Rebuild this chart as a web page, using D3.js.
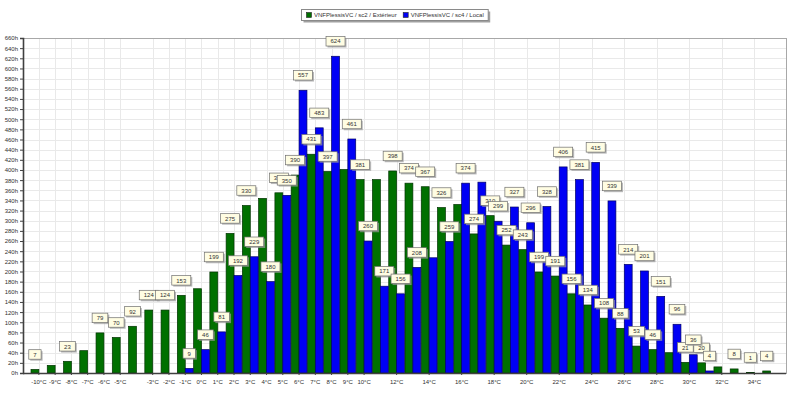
<!DOCTYPE html>
<html>
<head>
<meta charset="utf-8">
<title>VNFPlessisVC - heures par température</title>
<script src="https://cdnjs.cloudflare.com/ajax/libs/d3/7.8.5/d3.min.js"></script>
<style>
  body { margin: 0; background: #fff; }
  text { font-family: 'Liberation Sans', Arial, sans-serif; }
</style>
</head>
<body>
<div id="chart"></div>
<script>
// categories (temperature classes)
var categories = ["-10°C","-9°C","-8°C","-7°C","-6°C","-5°C","-4°C","-3°C","-2°C","-1°C",
  "0°C","1°C","2°C","3°C","4°C","5°C","6°C","7°C","8°C","9°C",
  "10°C","11°C","12°C","13°C","14°C","15°C","16°C","17°C","18°C","19°C",
  "20°C","21°C","22°C","23°C","24°C","25°C","26°C","27°C","28°C","29°C",
  "30°C","31°C","32°C","33°C","34°C","35°C"];

// hours per class
var exterieur = [7,15,23,44,79,70,92,124,124,153,
  166,199,275,330,344,355,390,431,397,401,
  381,381,398,374,367,326,332,274,310,252,
  243,199,191,156,134,108,88,53,46,40,
  21,20,12,8,1,4];
var local = [0,0,0,0,0,0,0,0,0,9,
  46,81,192,229,180,350,557,483,624,461,
  260,171,156,208,227,259,374,376,299,327,
  296,328,406,381,415,339,214,201,151,96,
  36,4,0,0,0,0];

var seriesNames = ["VNFPlessisVC / sc2 / Extérieur", "VNFPlessisVC / sc4 / Local"];
var seriesColors = ["#007000", "#0000f5"];
var seriesStroke = ["#003300", "#000066"];

// labels the original chart did not show
var hiddenExterieur = ["-9°C","-7°C","0°C","4°C","9°C","11°C","16°C","29°C","32°C"];
var hiddenLocal = ["14°C","17°C"];

var xTicks = ["-10°C","-9°C","-8°C","-7°C","-6°C","-5°C","-3°C","-2°C","-1°C",
  "0°C","1°C","2°C","3°C","4°C","5°C","6°C","7°C","8°C","9°C","10°C",
  "12°C","14°C","16°C","18°C","20°C","22°C","24°C","26°C","28°C","30°C","32°C","34°C"];
var yTicks = [0,20,40,60,80,100,120,140,160,180,200,220,240,260,280,300,320,340,
  360,380,400,420,440,460,480,500,520,540,560,580,600,620,640,660];

var W = 791, H = 394;
var pLeft = 23, pRight = 786, pTop = 38, pBottom = 373;

var svg = d3.select("#chart").append("svg")
  .attr("width", W).attr("height", H);

var x = d3.scaleBand().domain(categories).range([31, 778.5]).paddingInner(0.03);
var xs = d3.scaleBand().domain([0, 1]).range([0, x.bandwidth()]);
var y = d3.scaleLinear().domain([0, 660]).range([pBottom, pTop]);

// grid
svg.append("g").selectAll("line")
  .data(yTicks.slice(1))
  .enter().append("line")
  .attr("x1", pLeft).attr("x2", pRight)
  .attr("y1", function(d) { return Math.round(y(d)) + 0.5; })
  .attr("y2", function(d) { return Math.round(y(d)) + 0.5; })
  .attr("stroke", "#e9e9e9");
svg.append("g").selectAll("line")
  .data(xTicks)
  .enter().append("line")
  .attr("x1", function(d) { return Math.round(x(d) + x.bandwidth() / 2) + 0.5; })
  .attr("x2", function(d) { return Math.round(x(d) + x.bandwidth() / 2) + 0.5; })
  .attr("y1", pTop).attr("y2", pBottom)
  .attr("stroke", "#e9e9e9");

// frame
svg.append("rect")
  .attr("x", pLeft + 0.5).attr("y", pTop + 0.5)
  .attr("width", pRight - pLeft).attr("height", pBottom - pTop)
  .attr("fill", "none").attr("stroke", "#a8a8a8");

// bars
var all = [exterieur, local];
all.forEach(function(vals, s) {
  svg.append("g").selectAll("rect")
    .data(categories.filter(function(c, i) { return vals[i] > 0; }))
    .enter().append("rect")
    .attr("x", function(d) { return x(d) + xs(s); })
    .attr("width", xs.bandwidth())
    .attr("y", function(d) { return y(vals[categories.indexOf(d)]); })
    .attr("height", function(d) { return pBottom - y(vals[categories.indexOf(d)]); })
    .attr("fill", seriesColors[s])
    .attr("stroke", seriesStroke[s])
    .attr("stroke-width", 0.7);
});

// axes
var yAxis = d3.axisLeft(y).tickValues(yTicks).tickSize(3).tickPadding(2)
  .tickFormat(function(d) { return d + "h"; });
var gy = svg.append("g").attr("transform", "translate(" + pLeft + ",0)").call(yAxis);
gy.select(".domain").attr("stroke", "#404040").attr("stroke-width", 1.6);
gy.selectAll(".tick line").attr("stroke", "#404040");
gy.selectAll("text").attr("font-size", 6).attr("fill", "#303030")
  .attr("font-family", "'Liberation Sans', Arial, sans-serif");

var xAxis = d3.axisBottom(x).tickValues(xTicks).tickSize(2).tickPadding(5).tickSizeOuter(0);
var gx = svg.append("g").attr("transform", "translate(0," + pBottom + ")").call(xAxis);
gx.select(".domain").attr("d", "M" + pLeft + ",0.5H" + pRight).attr("stroke", "#404040").attr("stroke-width", 1.4);
gx.selectAll(".tick line").attr("stroke", "#404040");
gx.selectAll("text").attr("font-size", 6).attr("fill", "#303030")
  .attr("font-family", "'Liberation Sans', Arial, sans-serif");

// value labels
var hidden = [hiddenExterieur, hiddenLocal];
all.forEach(function(vals, s) {
  var g = svg.append("g");
  categories.forEach(function(c, i) {
    var v = vals[i];
    if (v <= 0 || hidden[s].indexOf(c) >= 0) return;
    var cx = x(c) + xs(s) + xs.bandwidth() / 2;
    var cy = y(v) - 15;
    var lg = g.append("g");
    var t = lg.append("text").text(v)
      .attr("x", cx).attr("y", cy + 2.2)
      .attr("text-anchor", "middle")
      .attr("font-size", 6).attr("fill", "#333");
    var w = t.node().getComputedTextLength() + 9;
    var hgt = 9.5;
    lg.insert("rect", "text")
      .attr("x", cx - w / 2 + 1.5).attr("y", cy - hgt / 2 + 1.5)
      .attr("width", w).attr("height", hgt)
      .attr("fill", "#9a9a9a").attr("opacity", 0.7);
    lg.insert("rect", "text")
      .attr("x", cx - w / 2).attr("y", cy - hgt / 2)
      .attr("width", w).attr("height", hgt)
      .attr("fill", "#fffde3").attr("stroke", "#6f6f6f").attr("stroke-width", 0.7);
  });
});

// legend
var lgd = svg.append("g");
var shadow = lgd.append("rect").attr("fill", "#a0a0a0");
var box = lgd.append("rect").attr("fill", "#fff").attr("stroke", "#8a8a8a");
var lx = 306;
seriesNames.forEach(function(n, s) {
  lgd.append("rect").attr("x", lx + 0.5).attr("y", 12.5).attr("width", 5).attr("height", 5)
    .attr("fill", seriesColors[s]).attr("stroke", "#222").attr("stroke-width", 0.6);
  var t = lgd.append("text").attr("x", lx + 8).attr("y", 17.3)
    .attr("font-size", 6).attr("fill", "#333").text(n);
  lx += 8 + t.node().getComputedTextLength() + 6;
});
var bw = lx - 302 - 1;
box.attr("x", 301.5).attr("y", 9.5).attr("width", bw).attr("height", 11);
shadow.attr("x", 303.5).attr("y", 11.5).attr("width", bw).attr("height", 11);
</script>
</body>
</html>
